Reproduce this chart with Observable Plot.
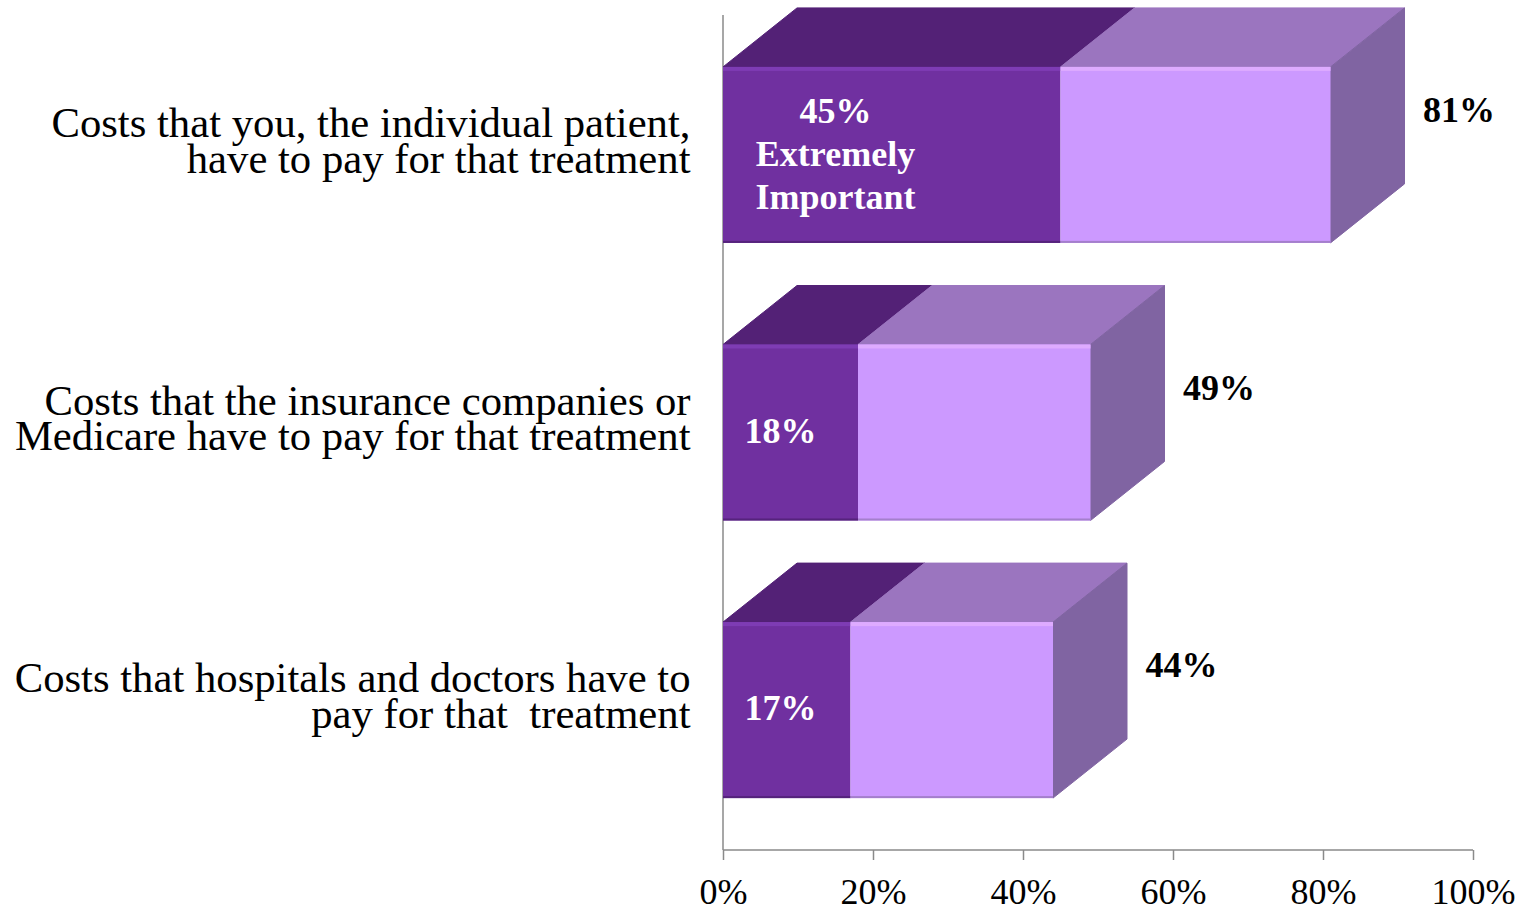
<!DOCTYPE html>
<html><head><meta charset="utf-8">
<script src="https://cdn.jsdelivr.net/npm/d3@7"></script>
<script src="https://cdn.jsdelivr.net/npm/@observablehq/plot@0.6"></script>
<style>
html,body{margin:0;padding:0;background:#fff;}
#chart svg{display:block;}
g[aria-label="x-axis tick"]{stroke:#8a8a8a;}
</style></head><body><div id="chart"></div>
<script>
const categories = [
  "Costs that you, the individual patient,\nhave to pay for that treatment",
  "Costs that the insurance companies or\nMedicare have to pay for that treatment",
  "Costs that hospitals and doctors have to\npay for that  treatment"
];
const seriesNames = ["Extremely important", "Somewhat important"];
const extremely = [45, 18, 17];
const total = [81, 49, 44];
const innerLabels = ["45%\nExtremely\nImportant", "18%", "17%"];
const totalLabels = ["81%", "49%", "44%"];
const xTicks = [0, 20, 40, 60, 80, 100];

const segments = [];
categories.forEach((c, i) => {
  segments.push({cat: c, series: seriesNames[0], value: extremely[i]});
  segments.push({cat: c, series: seriesNames[1], value: total[i] - extremely[i]});
});
const rows = categories.map((c, i) => ({cat: c, inner: innerLabels[i], totalLabel: totalLabels[i], total: total[i]}));

const DX = 74, DY = 59;
const FONT = "'Liberation Serif','Times New Roman',Times,serif";

function box3d(index, scales, values, dims) {
  const {x, y} = scales;
  const bw = y.bandwidth();
  const g = d3.create("svg:g");
  const poly = (pts, fill) => g.append("polygon").attr("points", pts.map(p => p.join(",")).join(" ")).attr("fill", fill)
    .attr("stroke", fill).attr("stroke-width", 1).attr("stroke-linejoin", "round");
  const yb = dims.height - dims.marginBottom;
  g.append("line").attr("x1", x(0)).attr("x2", x(100)).attr("y1", yb).attr("y2", yb).attr("stroke", "#8a8a8a").attr("stroke-width", 1.5);
  g.append("line").attr("x1", x(0)).attr("x2", x(0)).attr("y1", dims.marginTop).attr("y2", yb).attr("stroke", "#8a8a8a").attr("stroke-width", 1.5);
  categories.forEach((c, i) => {
    const y0 = y(c), y1 = y0 + bw;
    const xa = x(0), xb = x(extremely[i]), xc = x(total[i]);
    poly([[xa, y0], [xa + DX, y0 - DY], [xb + DX, y0 - DY], [xb, y0]], "#532176");
    poly([[xb, y0], [xb + DX, y0 - DY], [xc + DX, y0 - DY], [xc, y0]], "#9b75bf");
    poly([[xc, y0], [xc + DX, y0 - DY], [xc + DX, y1 - DY], [xc, y1]], "#8064a2");
  });
  return g.node();
}

function edges(index, scales, values, dims) {
  const {x, y} = scales;
  const bw = y.bandwidth();
  const g = d3.create("svg:g");
  categories.forEach((c, i) => {
    const y0 = y(c), y1 = y0 + bw;
    const xa = x(0), xb = x(extremely[i]), xc = x(total[i]);
    g.append("rect").attr("x", xa).attr("y", y0).attr("width", xb - xa).attr("height", 4).attr("fill", "#7e3cb4");
    g.append("rect").attr("x", xb).attr("y", y0).attr("width", xc - xb).attr("height", 4).attr("fill", "#deabff");
    g.append("rect").attr("x", xa).attr("y", y1 - 2).attr("width", xb - xa).attr("height", 2).attr("fill", "#55237c");
    g.append("rect").attr("x", xb).attr("y", y1 - 2).attr("width", xc - xb).attr("height", 2).attr("fill", "#a47fcc");
  });
  return g.node();
}

const chart = Plot.plot({
  width: 1520,
  height: 908,
  marginLeft: 723,
  marginRight: 47,
  marginTop: 15,
  marginBottom: 58,
  style: {fontFamily: FONT, background: "#fff", color: "#000", overflow: "visible"},
  x: {domain: [0, 100], axis: null},
  y: {domain: categories, paddingInner: 0.366, paddingOuter: 0.187, round: false, axis: null},
  color: {domain: seriesNames, range: ["#7030a0", "#cc99ff"]},
  marks: [
    box3d,
    Plot.barX(segments, Plot.stackX({x: "value", y: "cat", fill: "series"})),
    edges,
    Plot.axisX({ticks: xTicks, tickFormat: d => d + "%", tickSize: 10, tickPadding: 18, fontSize: 36, stroke: "#8a8a8a", strokeWidth: 1.5}),
    Plot.text(rows, {x: 0, y: "cat", text: "cat", textAnchor: "end", dx: -33, dy: -12, fontSize: 42.7, lineHeight: 0.84, fill: "#000"}),
    Plot.text(rows.slice(0, 1), {x: 0, y: "cat", text: "inner", textAnchor: "middle", dx: 112, dy: -3, fontSize: 36, fontWeight: "bold", lineHeight: 1.2, fill: "#fff"}),
    Plot.text(rows.slice(1), {x: 0, y: "cat", text: "inner", textAnchor: "middle", dx: 57, dy: -2, fontSize: 36, fontWeight: "bold", fill: "#fff"}),
    Plot.text(rows, {x: "total", y: "cat", text: "totalLabel", textAnchor: "start", dx: 92, dy: -45, fontSize: 36, fontWeight: "bold", fill: "#000"})
  ]
});
document.getElementById("chart").appendChild(chart);
</script></body></html>
